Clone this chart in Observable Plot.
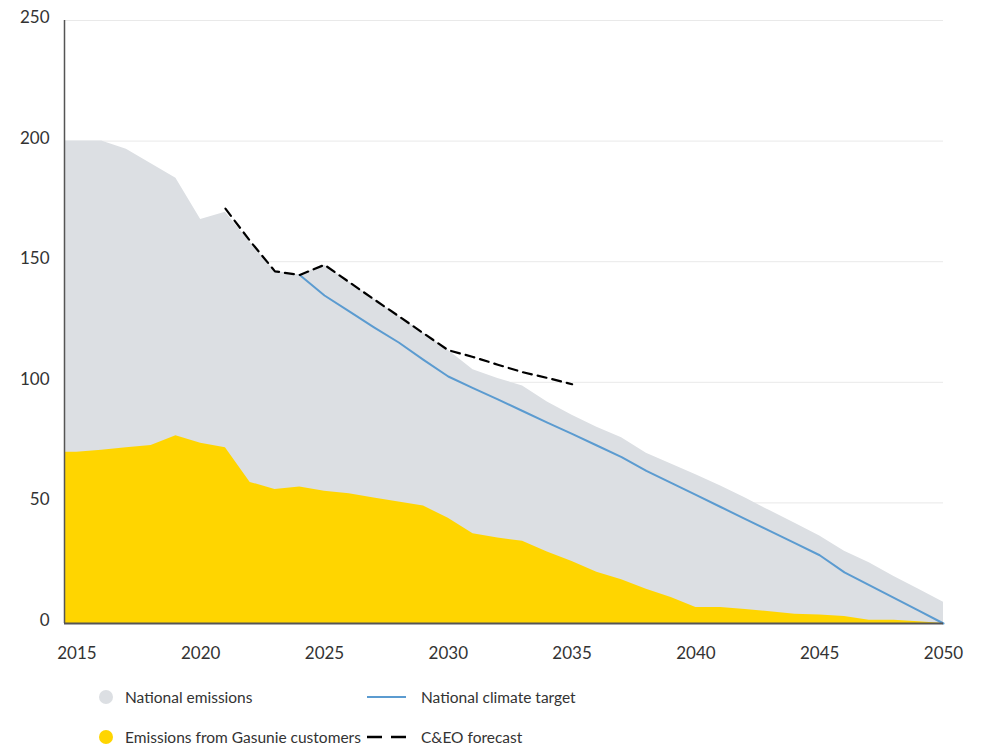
<!DOCTYPE html>
<html>
<head>
<meta charset="utf-8">
<script src="https://cdn.jsdelivr.net/npm/d3@7"></script>
<script src="https://cdn.jsdelivr.net/npm/@observablehq/plot@0.6"></script>
<style>
  body { margin: 0; background: #fff; font-family: Lato, "Open Sans", sans-serif; color: #333; }
  #chart svg { display: block; }
  .legend {
    display: grid;
    grid-template-columns: 268px 320px;
    row-gap: 20px;
    margin: 12px 0 0 99px;
    font-size: 15.5px;
  }
  .item { display: flex; align-items: center; height: 20px; white-space: nowrap; }
  .dot { width: 14px; height: 14px; border-radius: 50%; margin-right: 12px; flex: none; }
  .sw { width: 39px; height: 6px; margin-right: 15px; flex: none; }
</style>
</head>
<body>
<div id="chart"></div>
<div class="legend" id="legend"></div>
<script>
// Emissions (Mt CO2-eq), yearly
const years = [2015, 2016, 2017, 2018, 2019, 2020, 2021, 2022, 2023, 2024, 2025, 2026,
  2027, 2028, 2029, 2030, 2031, 2032, 2033, 2034, 2035, 2036, 2037, 2038, 2039, 2040,
  2041, 2042, 2043, 2044, 2045, 2046, 2047, 2048, 2049, 2050];
const national = [200, 200, 196.6, 190.6, 184.6, 167.5, 170.5, 158, 146, 144.5, 148.5, 141.5,
  134.4, 127.4, 120.3, 113.3, 105.2, 101.6, 98.5, 91.8, 86.3, 81.4, 77, 70.6, 66.1, 61.7,
  57, 52, 46.7, 41.6, 36.3, 30, 25.2, 19.5, 14.2, 8.8];
const gasunie = [71, 71.8, 72.9, 73.8, 77.8, 74.7, 72.9, 58.5, 55.6, 56.6, 54.8, 53.8,
  52, 50.4, 48.7, 43.6, 37.2, 35.4, 34.1, 29.6, 25.7, 21.2, 18.1, 14.2, 10.8, 6.6,
  6.6, 5.8, 4.9, 3.8, 3.5, 2.9, 1.3, 1.3, 0.7, 0];

const targetYears = [2024, 2025, 2026, 2027, 2028, 2029, 2030, 2031, 2032, 2033, 2034, 2035,
  2036, 2037, 2038, 2039, 2040, 2041, 2042, 2043, 2044, 2045, 2046, 2047, 2048, 2049, 2050];
const target = [144.5, 136, 129.4, 122.8, 116.5, 109.3, 102.4, 97.6, 92.9, 88.1, 83.3, 78.6,
  73.8, 69, 63.3, 58.3, 53.3, 48.3, 43.3, 38.3, 33.3, 28.3, 21.2, 15.9, 10.6, 5.3, 0];

const forecastYears = [2021, 2022, 2023, 2024, 2025, 2026, 2027, 2028, 2029, 2030, 2031, 2032,
  2033, 2034, 2035];
const forecast = [172, 158.5, 146, 144.5, 148.7, 141.5, 134.4, 127.4, 120.3, 113.3, 110.5, 107.3,
  104.2, 101.8, 99.2];

const xTicks = [2015, 2020, 2025, 2030, 2035, 2040, 2045, 2050];
const yTicks = [0, 50, 100, 150, 200, 250];
const axisStart = 2014.5;   // the plot frame opens half a year before the first data year

const legendItems = [
  { label: "National emissions", kind: "dot", color: "#dcdfe3" },
  { label: "National climate target", kind: "line", color: "#5b9bd0" },
  { label: "Emissions from Gasunie customers", kind: "dot", color: "#ffd500" },
  { label: "C&EO forecast", kind: "dash", color: "#000" }
];

const rows = years.map((year, i) => ({ year, national: national[i], gasunie: gasunie[i] }));
// the stacked bands run flush to the left edge of the frame
const areaRows = [{ year: axisStart, national: national[0], gasunie: gasunie[0] }, ...rows];
const targetRows = targetYears.map((year, i) => ({ year, value: target[i] }));
const forecastRows = forecastYears.map((year, i) => ({ year, value: forecast[i] }));

const chart = Plot.plot({
  width: 982,
  height: 675,
  marginLeft: 64,
  marginRight: 39,
  marginTop: 20,
  marginBottom: 52,
  style: { fontFamily: "Lato, 'Open Sans', sans-serif", fontSize: "17px", color: "#333", background: "#fff" },
  x: { domain: [axisStart, 2050] },
  y: { domain: [0, 250] },
  marks: [
    Plot.gridY(yTicks.slice(1), { stroke: "#e9e9e9", strokeOpacity: 1 }),
    Plot.areaY(areaRows, { x: "year", y: "national", fill: "#dcdfe3" }),
    Plot.areaY(areaRows, { x: "year", y: "gasunie", fill: "#ffd500" }),
    Plot.lineY(targetRows, { x: "year", y: "value", stroke: "#5b9bd0", strokeWidth: 2 }),
    Plot.lineY(forecastRows, { x: "year", y: "value", stroke: "#000", strokeWidth: 2.2, strokeDasharray: "9 6" }),
    Plot.ruleX([axisStart], { y1: 0, y2: 250, stroke: "#555", strokeWidth: 1.5 }),
    Plot.ruleY([0], { stroke: "#555", strokeWidth: 2 }),
    Plot.axisX({ ticks: xTicks, tickFormat: "d", tickSize: 0, tickPadding: 23, label: null, fill: "#333" }),
    Plot.axisY({ ticks: yTicks, tickSize: 0, tickPadding: 15, label: null, dy: -3, fill: "#333" })
  ]
});
document.getElementById("chart").appendChild(chart);

// legend below the chart
const legend = d3.select("#legend");
for (const d of legendItems) {
  const item = legend.append("div").attr("class", "item");
  if (d.kind === "dot") {
    item.append("div").attr("class", "dot").style("background", d.color);
  } else {
    const svg = item.append("svg").attr("class", "sw").attr("width", 39).attr("height", 6);
    svg.append("line")
      .attr("x1", 0).attr("x2", 39).attr("y1", 3).attr("y2", 3)
      .attr("stroke", d.color)
      .attr("stroke-width", d.kind === "dash" ? 2.5 : 2)
      .attr("stroke-dasharray", d.kind === "dash" ? "15 9" : null);
  }
  item.append("span").text(d.label);
}
</script>
</body>
</html>
